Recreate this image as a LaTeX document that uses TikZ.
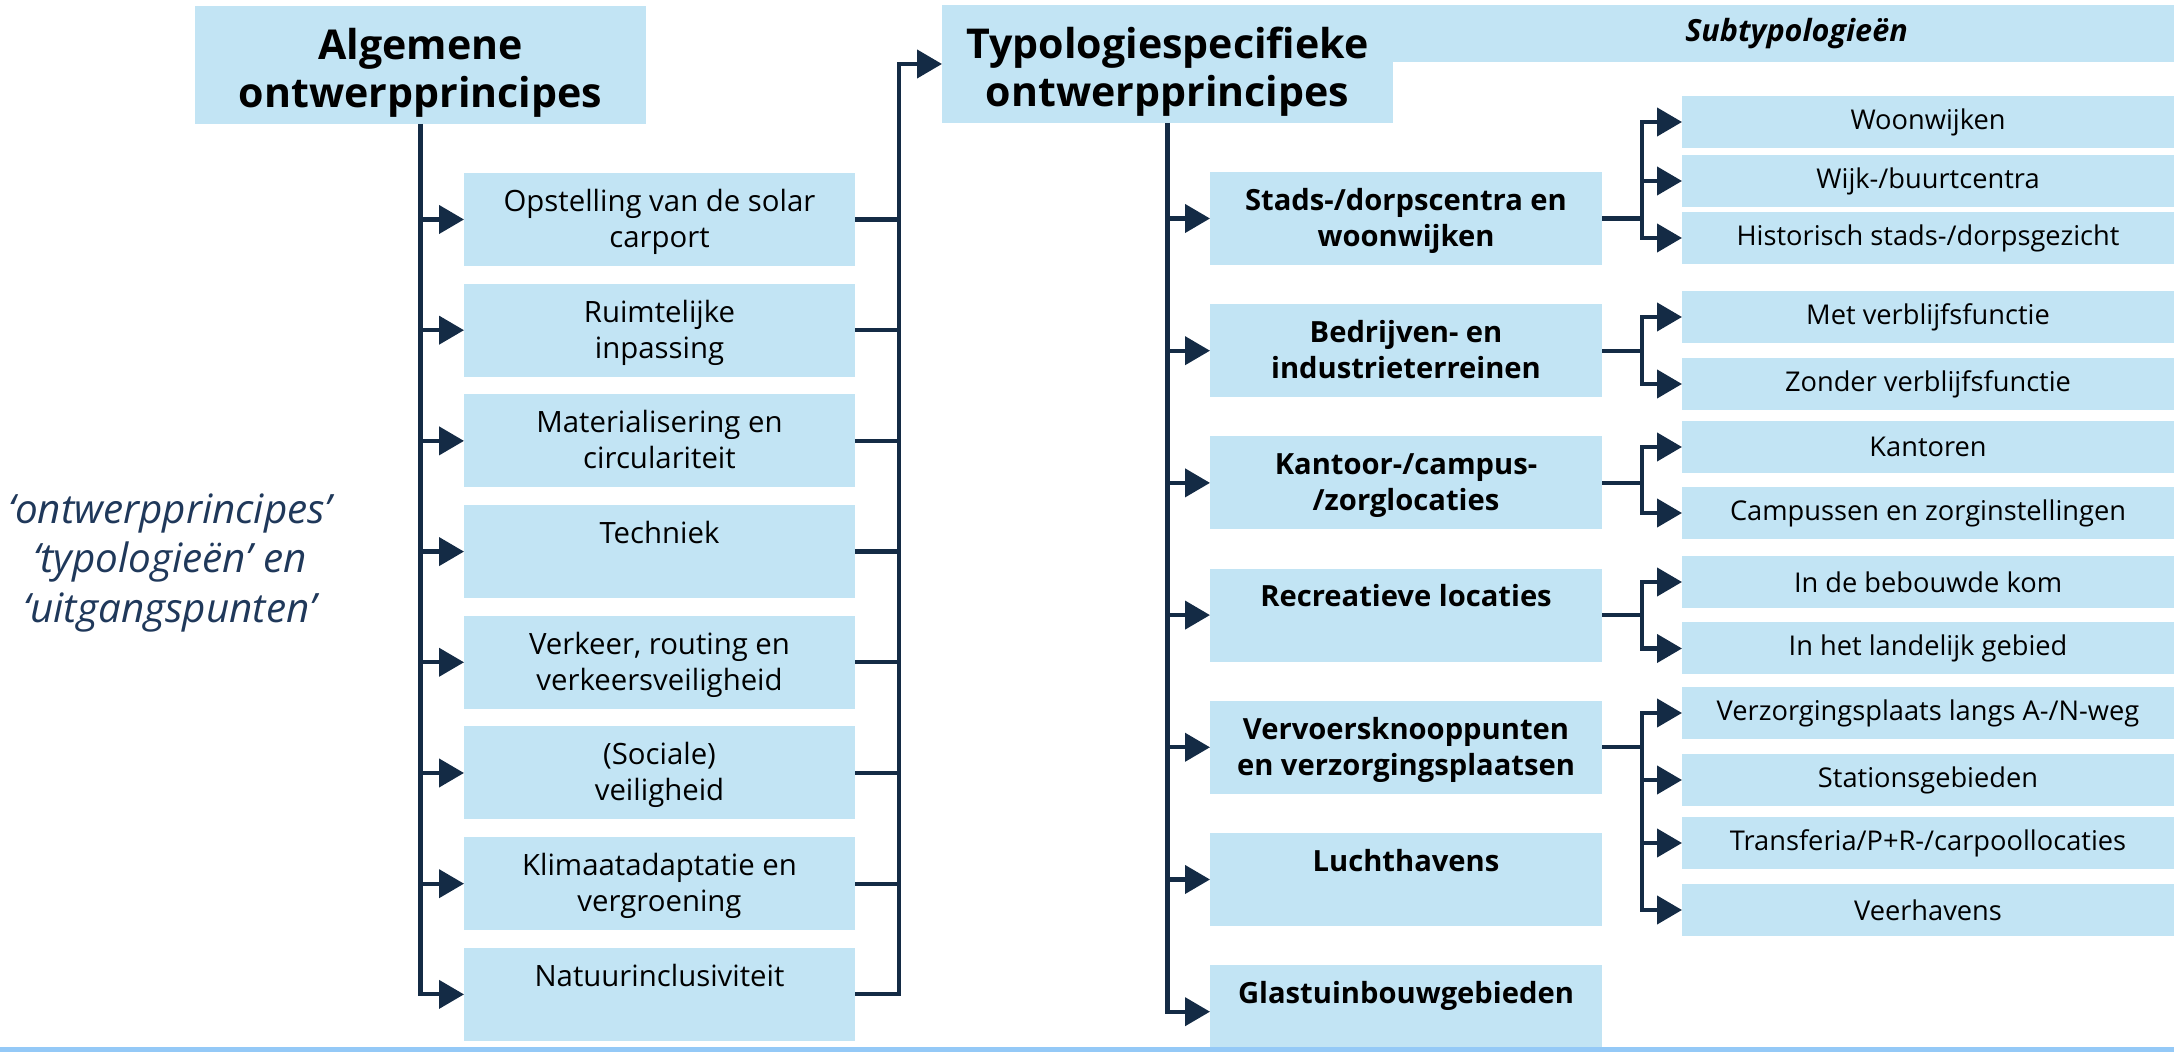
\documentclass[tikz,border=0pt]{standalone}
\usepackage{fontspec}
\setmainfont{Open Sans}
\usepackage{tikz}
\usetikzlibrary{positioning,arrows.meta}
\definecolor{boxblue}{RGB}{194,228,244}
\definecolor{navy}{RGB}{20,43,69}
\definecolor{textnavy}{RGB}{31,56,90}
\definecolor{barblue}{RGB}{148,201,247}
\newcommand{\regels}[3][0.95em]{\rule{0pt}{#1}#2\\#3\rule[-0.28em]{0pt}{0.28em}}

\begin{document}
\begin{tikzpicture}[node distance=0.177cm,
    hoofd/.style={fill=boxblue, inner sep=0pt, outer sep=0pt, minimum width=4.51cm, minimum height=1.18cm, align=center, font=\bfseries\fontsize{11.7pt}{13.66pt}\selectfont},
    principe/.style={fill=boxblue, inner sep=0pt, outer sep=0pt, minimum width=3.91cm, minimum height=0.93cm, align=center, font=\fontsize{8.35pt}{10.25pt}\selectfont},
    typo/.style={principe, minimum width=3.92cm, font=\bfseries\fontsize{8.3pt}{10.25pt}\selectfont},
    subbox/.style={fill=boxblue, inner sep=0pt, outer sep=0pt, minimum width=4.92cm, minimum height=0.52cm, anchor=north west, font=\fontsize{7.75pt}{9pt}\selectfont},
    lijn/.style={draw=navy, line width=0.042cm},
    pijl/.style={lijn, -{Triangle[length=0.25cm,width=0.28cm]}}]
    \useasboundingbox (0,0) rectangle (21.74,-10.52);

    \node[align=center, text=textnavy, font=\itshape\fontsize{11.5pt}{14.2pt}\selectfont](termen) at (1.70,-5.63){‘ontwerpprincipes’\\‘typologieën’ en\\‘uitgangspunten’};

    \node[hoofd](algemeen) at (4.205,-0.65){\regels[1.2em]{Algemene}{ontwerpprincipes}};
    \node[principe, anchor=north west](opstelling) at (4.64,-1.73){\regels{Opstelling van de solar}{carport}};
    \node[principe, below=of opstelling](ruimtelijk){\regels{Ruimtelijke}{inpassing}};
    \node[principe, below=of ruimtelijk](materiaal){\regels{Materialisering en}{circulariteit}};
    \node[principe, below=of materiaal](techniek){\regels{Techniek}{~}};
    \node[principe, below=of techniek](verkeer){\regels{Verkeer, routing en}{verkeersveiligheid}};
    \node[principe, below=of verkeer](sociaal){\regels{(Sociale)}{veiligheid}};
    \node[principe, below=of sociaal](klimaat){\regels{Klimaatadaptatie en}{vergroening}};
    \node[principe, below=of klimaat](natuur){\regels{Natuurinclusiviteit}{~}};

    \draw[pijl](algemeen.south) |- (natuur.west);
    \foreach \n in {opstelling,ruimtelijk,materiaal,techniek,verkeer,sociaal,klimaat}
        \draw[pijl](algemeen.south |- \n.west) -- (\n.west);

    \node[hoofd](typologie) at (11.675,-0.64){\regels[1.2em]{Typologiespecifieke}{ontwerpprincipes}};
    \node[fill=boxblue, inner sep=0pt, outer sep=0pt, anchor=north west, minimum width=7.81cm, minimum height=0.57cm, font=\bfseries\itshape\fontsize{8.7pt}{10pt}\selectfont](subtypologie) at (typologie.north east){\hspace*{0.26cm}Subtypologieën};

    \foreach \n in {opstelling,ruimtelijk,materiaal,techniek,verkeer,sociaal,klimaat}
        \draw[lijn](\n.east) -- ++(0.44,0);
    \draw[pijl](natuur.east) -- ++(0.44,0) |- (typologie.west);

    \node[typo, anchor=north west](stads) at (12.10,-1.72){\regels{Stads-/dorpscentra en}{woonwijken}};
    \node[typo, below=0.392cm of stads](bedrijven){\regels{Bedrijven- en}{industrieterreinen}};
    \node[typo, below=0.392cm of bedrijven](kantoor){\regels{Kantoor-/campus-}{/zorglocaties}};
    \node[typo, below=0.392cm of kantoor](recreatie){\regels{Recreatieve locaties}{~}};
    \node[typo, below=0.392cm of recreatie](vervoer){\regels{Vervoersknooppunten}{en verzorgingsplaatsen}};
    \node[typo, below=0.392cm of vervoer](lucht){\regels{Luchthavens}{~}};
    \node[typo, below=0.392cm of lucht](glas){\regels{Glastuinbouwgebieden}{~}};

    \draw[pijl](typologie.south) |- (glas.west);
    \foreach \n in {stads,bedrijven,kantoor,recreatie,vervoer,lucht}
        \draw[pijl](typologie.south |- \n.west) -- (\n.west);

    \node[subbox](woonwijken) at (16.82,-0.96){Woonwijken};
    \node[subbox, below=0.07cm of woonwijken](wijkcentra){Wijk-/buurtcentra};
    \node[subbox, below=0.05cm of wijkcentra](historisch){Historisch stads-/dorpsgezicht};
    \draw[pijl](stads.east) -- ++(0.40,0) coordinate (s1) |- (woonwijken.west);
    \draw[pijl](s1) |- (wijkcentra.west);
    \draw[pijl](s1) |- (historisch.west);

    \node[subbox](met) at (16.82,-2.91){Met verblijfsfunctie};
    \node[subbox, below=0.15cm of met](zonder){Zonder verblijfsfunctie};
    \draw[pijl](bedrijven.east) -- ++(0.40,0) coordinate (s2) |- (met.west);
    \draw[pijl](s2) |- (zonder.west);

    \node[subbox](kantoren) at (16.82,-4.21){Kantoren};
    \node[subbox, below=0.14cm of kantoren](campussen){Campussen en zorginstellingen};
    \draw[pijl](kantoor.east) -- ++(0.40,0) coordinate (s3) |- (kantoren.west);
    \draw[pijl](s3) |- (campussen.west);

    \node[subbox](bebouwd) at (16.82,-5.56){In de bebouwde kom};
    \node[subbox, below=0.145cm of bebouwd](landelijk){In het landelijk gebied};
    \draw[pijl](recreatie.east) -- ++(0.40,0) coordinate (s4) |- (bebouwd.west);
    \draw[pijl](s4) |- (landelijk.west);

    \node[subbox](verzorging) at (16.82,-6.87){Verzorgingsplaats langs A-/N-weg};
    \node[subbox, below=0.15cm of verzorging](stations){Stationsgebieden};
    \node[subbox, below=0.11cm of stations](transferia){Transferia/P+R-/carpoollocaties};
    \node[subbox, below=0.15cm of transferia](veerhavens){Veerhavens};
    \draw[pijl](vervoer.east) -- ++(0.40,0) coordinate (s5) |- (verzorging.west);
    \foreach \n in {stations,transferia,veerhavens}
        \draw[pijl](s5) |- (\n.west);

    \fill[barblue] (0,-10.475) rectangle (21.74,-10.52);
\end{tikzpicture}
\end{document}
